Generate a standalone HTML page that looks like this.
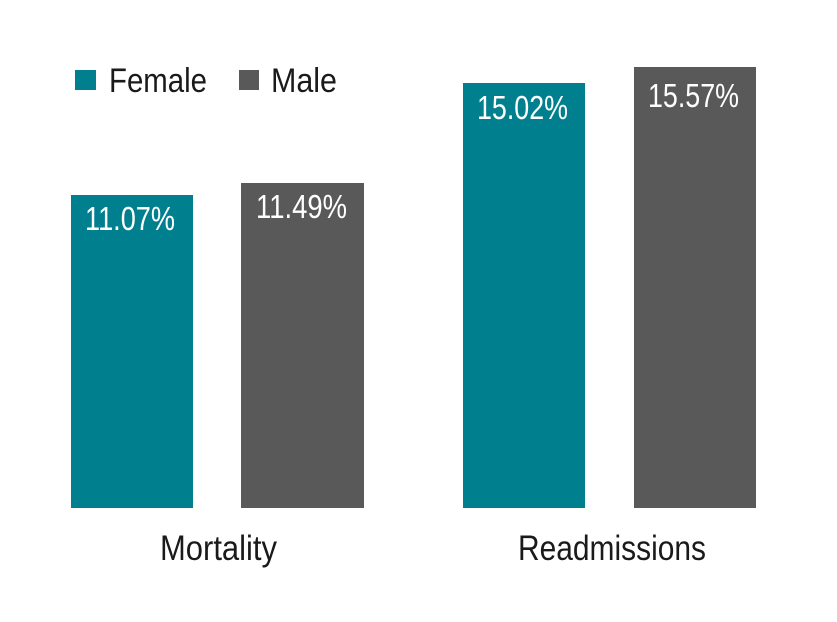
<!DOCTYPE html>
<html><head><style>
html,body{margin:0;padding:0;background:#fff;}
svg{display:block;}
text{font-family:"Liberation Sans Narrow","Liberation Sans",sans-serif;}
</style></head><body>
<svg width="837" height="622" viewBox="0 0 837 622" xmlns="http://www.w3.org/2000/svg">
<rect width="837" height="622" fill="#fff"/>
<rect x="75" y="70" width="21" height="20" fill="#00808e"/>
<text x="109" y="92" font-size="34" fill="#1a1a1a" textLength="98" lengthAdjust="spacingAndGlyphs">Female</text>
<rect x="239" y="70" width="20" height="20" fill="#595959"/>
<text x="271" y="92" font-size="34" fill="#1a1a1a" textLength="66" lengthAdjust="spacingAndGlyphs">Male</text>

<rect x="71" y="195" width="122" height="313" fill="#00808e"/>
<rect x="241" y="183" width="123" height="325" fill="#595959"/>
<rect x="463" y="83" width="122" height="425" fill="#00808e"/>
<rect x="634" y="67" width="122" height="441" fill="#595959"/>

<text x="85" y="230" font-size="33" fill="#fff" textLength="90" lengthAdjust="spacingAndGlyphs">11.07%</text>
<text x="256" y="218" font-size="33" fill="#fff" textLength="91" lengthAdjust="spacingAndGlyphs">11.49%</text>
<text x="477" y="119" font-size="33" fill="#fff" textLength="91" lengthAdjust="spacingAndGlyphs">15.02%</text>
<text x="648" y="107" font-size="33" fill="#fff" textLength="91" lengthAdjust="spacingAndGlyphs">15.57%</text>

<text x="160" y="560" font-size="35" fill="#1a1a1a" textLength="117" lengthAdjust="spacingAndGlyphs">Mortality</text>
<text x="518" y="560" font-size="35" fill="#1a1a1a" textLength="188" lengthAdjust="spacingAndGlyphs">Readmissions</text>
</svg>
</body></html>
